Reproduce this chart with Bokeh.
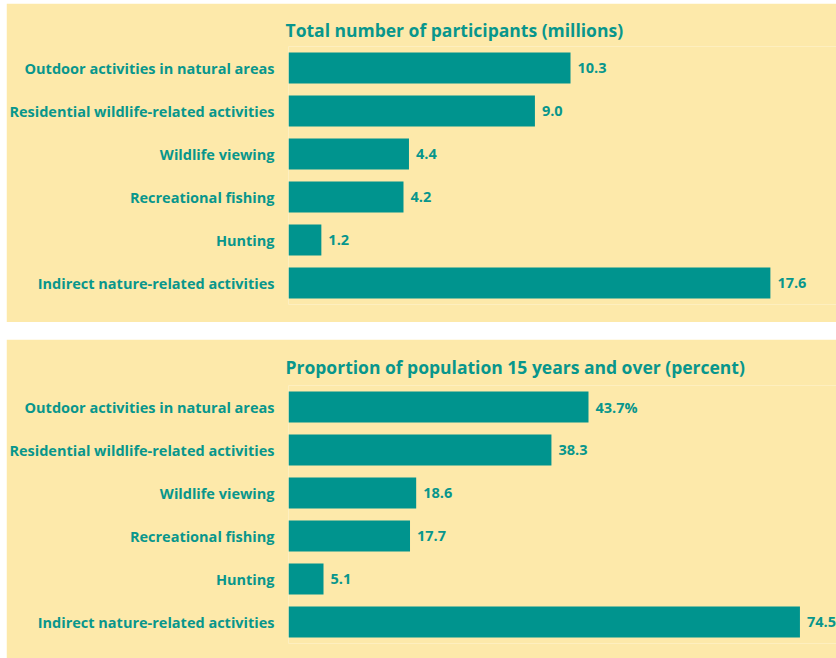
from bokeh.plotting import figure
from bokeh.models import ColumnDataSource, LabelSet, Range1d, FactorRange
from bokeh.layouts import column
from bokeh.core.properties import value
from bokeh.embed import file_html
from bokeh.resources import INLINE

categories = [
    "Outdoor activities in natural areas",
    "Residential wildlife-related activities",
    "Wildlife viewing",
    "Recreational fishing",
    "Hunting",
    "Indirect nature-related activities",
]
participants = [10.3, 9.0, 4.4, 4.2, 1.2, 17.6]
participants_labels = ["10.3", "9.0", "4.4", "4.2", "1.2", "17.6"]
percent = [43.7, 38.3, 18.6, 17.7, 5.1, 74.5]
percent_labels = ["43.7%", "38.3", "18.6", "17.7", "5.1", "74.5"]

BG = "#FDE9AA"
TEAL = "#00948E"
TXT = "#08968C"
FONT = "Open Sans"


def make_panel(title, vals, labels, xmax, height, top, bottom, standoff):
    src = ColumnDataSource(dict(cat=categories, val=vals, lab=labels))
    p = figure(
        width=830, height=height,
        y_range=FactorRange(*reversed(categories)),
        x_range=Range1d(0, xmax),
        output_backend="svg", toolbar_location=None,
        min_border_left=280, min_border_right=0,
        min_border_top=top, min_border_bottom=bottom,
        background_fill_color=BG, border_fill_color=BG,
        outline_line_color=None,
    )
    p.hbar(y="cat", left=0, right="val", height=0.72, source=src,
           fill_color=TEAL, line_color=None)
    p.add_layout(LabelSet(x="val", y="cat", text="lab", source=src,
                          x_offset=7, text_baseline="middle",
                          text_font=value(FONT), text_font_style=value("bold"),
                          text_font_size=value("14.5px"), text_color=TXT))
    p.title.text = title
    p.title.align = "left"
    p.title.offset = -3
    p.title.standoff = standoff
    p.title.text_font = FONT
    p.title.text_font_size = "17.5px"
    p.title.text_font_style = "bold"
    p.title.text_color = TXT
    p.xaxis.visible = False
    p.xgrid.visible = False
    p.ygrid.visible = False
    ax = p.yaxis[0]
    ax.axis_line_color = None
    ax.major_tick_line_color = None
    ax.minor_tick_line_color = None
    ax.major_label_standoff = 8
    ax.major_label_text_font = FONT
    ax.major_label_text_font_size = "14.5px"
    ax.major_label_text_font_style = "bold"
    ax.major_label_text_color = TXT
    return p


p1 = make_panel("Total number of participants (millions)", participants,
                participants_labels, 550 / 27.48, 319, 43, 18, 10)
p2 = make_panel("Proportion of population 15 years and over (percent)", percent,
                percent_labels, 550 / 6.89, 319, 46, 15, 13)

layout = column(p1, p2, spacing=17, margin=(3, 0, 0, 6))
open("out.html", "w").write(file_html(layout, INLINE))
